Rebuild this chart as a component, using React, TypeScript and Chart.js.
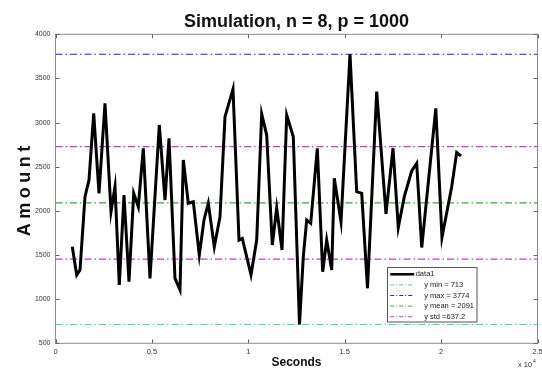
import React, { useEffect, useRef } from 'react';
import { Chart, registerables } from 'chart.js';

Chart.register(...registerables);

const FONT = "'Liberation Sans', Arial, Helvetica, sans-serif";

const titleText = 'Simulation, n = 8, p = 1000';
const xTitle = 'Seconds';
const yTitle = 'Amount';

const seconds = [
  871, 1100, 1271, 1530, 1738, 1981, 2256, 2567, 2879, 3086,
  3309, 3553, 3812, 4056, 4295, 4554, 4901, 5384, 5680, 5887,
  6198, 6457, 6629, 6888, 7147, 7458, 7702, 7925, 8237, 8532,
  8792, 9206, 9518, 9689, 10140, 10436, 10695, 10954, 11245, 11473,
  11748, 11992, 12334, 12656, 12853, 13029, 13237, 13579, 13859, 14066,
  14326, 14461, 14808, 15275, 15622, 15882, 16182, 16660, 17142, 17505,
  17780, 18091, 18475, 18735, 18995, 19725, 20046, 20550, 20809, 21032,
];

const amount = [
  1594, 1274, 1330, 2161, 2350, 3105, 2199, 3219, 1991, 2274,
  1161, 2180, 1198, 2199, 2047, 2709, 1236, 2973, 2123, 2822,
  1236, 1104, 2576, 2087, 2104, 1500, 1897, 2087, 1594, 1934,
  3067, 3380, 1670, 1689, 1274, 1670, 3097, 2859, 1614, 2033,
  1557, 3086, 2840, 713, 1481, 1897, 1859, 2709, 1311, 1670,
  1330, 2369, 1878, 3774, 2217, 2199, 1123, 3350, 1965, 2709,
  1812, 2161, 2452, 2539, 1585, 3162, 1699, 2274, 2661, 2622,
];

const yMin = 713;
const yMax = 3774;
const yMean = 2091;
const yStd = 637.2;

const xRange = [0, 25000];
const yRange = [500, 4000];
const xStep = 5000;
const yStep = 500;

const legendLabels = ['data1', 'y min = 713', 'y max = 3774', 'y mean = 2091', 'y std =637.2'];

const DASH = [7, 3, 1.5, 3];

const hline = (label: string, y: number, color: string, hidden: boolean) => ({
  label,
  data: xRange.map((x) => ({ x, y })),
  borderColor: color,
  backgroundColor: color,
  borderWidth: 1.2,
  borderDash: DASH,
  pointRadius: 0,
  fill: false,
  legendHidden: hidden,
});

const boxPlugin = {
  id: 'matBox',
  beforeDraw(chart: any) {
    const s = chart.scales.y;
    if (s && !s.__ls) {
      const orig = s.drawTitle.bind(s);
      s.drawTitle = () => {
        const c = chart.ctx;
        c.save();
        try { (c as any).letterSpacing = '4.5px'; } catch (e) {}
        orig();
        c.restore();
      };
      s.__ls = true;
    }
  },
  afterDatasetsDraw(chart: any) {
    const { ctx, chartArea: a, scales } = chart;
    ctx.save();
    ctx.setLineDash([]);
    ctx.strokeStyle = '#8c8c8c';
    ctx.lineWidth = 1;
    ctx.strokeRect(a.left, a.top, a.right - a.left, a.bottom - a.top);
    const tl = 4;
    ctx.strokeStyle = '#666';
    ctx.beginPath();
    scales.x.ticks.forEach((t: any) => {
      const px = Math.round(scales.x.getPixelForValue(t.value)) + 0.5;
      ctx.moveTo(px, a.bottom); ctx.lineTo(px, a.bottom - tl);
      ctx.moveTo(px, a.top); ctx.lineTo(px, a.top + tl);
    });
    scales.y.ticks.forEach((t: any) => {
      const py = Math.round(scales.y.getPixelForValue(t.value)) + 0.5;
      ctx.moveTo(a.left, py); ctx.lineTo(a.left + tl, py);
      ctx.moveTo(a.right, py); ctx.lineTo(a.right - tl, py);
    });
    ctx.stroke();
    ctx.restore();
  },
  afterDraw(chart: any) {
    const { ctx, chartArea: a } = chart;
    ctx.save();
    // legend box
    const bx = a.right - 150.3;
    const by = a.bottom - 76;
    const bw = 89.5;
    const bh = 54.5;
    ctx.fillStyle = '#ffffff';
    ctx.fillRect(bx, by, bw, bh);
    ctx.strokeStyle = '#555';
    ctx.lineWidth = 1;
    ctx.setLineDash([]);
    ctx.strokeRect(Math.round(bx) + 0.5, Math.round(by) + 0.5, bw, bh);
    const items = chart.data.datasets.filter((d: any) => !d.legendHidden);
    ctx.font = `7.5px ${FONT}`;
    ctx.textBaseline = 'middle';
    ctx.textAlign = 'left';
    items.forEach((d: any, i: number) => {
      const y = by + 7 + i * 10.6;
      ctx.beginPath();
      ctx.strokeStyle = d.borderColor;
      ctx.lineWidth = i === 0 ? 2.5 : 1;
      ctx.setLineDash(i === 0 ? [] : [4, 2, 1, 2]);
      ctx.moveTo(bx + 3, y);
      ctx.lineTo(bx + 27, y);
      ctx.stroke();
      ctx.fillStyle = '#222';
      ctx.fillText(d.label, bx + (i === 0 ? 28.5 : 37), y);
    });
    // exponent label
    ctx.setLineDash([]);
    ctx.fillStyle = '#333';
    ctx.font = `7.5px ${FONT}`;
    ctx.fillText('x 10', a.right - 19.5, 365);
    ctx.font = `5px ${FONT}`;
    ctx.fillText('4', a.right - 4.5, 361.5);
    ctx.restore();
  },
};

export default function App() {
  const ref = useRef<HTMLCanvasElement | null>(null);

  useEffect(() => {
    if (!ref.current) return;
    const chart = new Chart(ref.current, {
      type: 'line',
      data: {
        datasets: [
          {
            label: legendLabels[0],
            data: seconds.map((x, i) => ({ x, y: amount[i] })),
            borderColor: '#000000',
            backgroundColor: '#000000',
            borderWidth: 3,
            pointRadius: 0,
            tension: 0,
            fill: false,
          } as any,
          hline(legendLabels[1], yMin, '#45d2cc', false),
          hline(legendLabels[2], yMax, '#1f1fff', false),
          hline(legendLabels[3], yMean, '#3fa83f', false),
          hline(legendLabels[4], yMean + yStd, '#c83cc8', false),
          hline(legendLabels[4], yMean - yStd, '#c83cc8', true),
        ],
      },
      options: {
        animation: false,
        responsive: false,
        devicePixelRatio: 1,
        events: [],
        layout: { padding: { left: 0, right: 4.5, top: 0, bottom: 0 } },
        plugins: {
          legend: { display: false },
          tooltip: { enabled: false },
          title: {
            display: true,
            text: titleText,
            fullSize: false,
            color: '#111',
            font: { family: FONT, size: 18, weight: 'bold', lineHeight: 1.2 },
            padding: { top: 11.4, bottom: 1.3 },
          },
        },
        scales: {
          x: {
            type: 'linear',
            min: xRange[0],
            max: xRange[1],
            ticks: {
              stepSize: xStep,
              color: '#333',
              font: { family: FONT, size: 7.5 },
              padding: 3.9,
              maxRotation: 0,
              callback: (v: any) => String(Number(v) / 10000),
            },
            grid: { display: false, drawTicks: false },
            border: { display: false },
            title: {
              display: true,
              text: xTitle,
              color: '#111',
              font: { family: FONT, size: 12, weight: 'bold', lineHeight: 1 },
              padding: { top: 0, bottom: 0.3 },
            },
            afterFit: (s: any) => { s.height = 25.7; s.paddingLeft = 0; s.paddingRight = 0; },
          },
          y: {
            type: 'linear',
            min: yRange[0],
            max: yRange[1],
            ticks: {
              stepSize: yStep,
              color: '#333',
              font: { family: FONT, size: 7 },
              padding: 5,
              callback: (v: any) => String(v),
            },
            grid: { display: false, drawTicks: false },
            border: { display: false },
            title: {
              display: true,
              text: yTitle,
              color: '#111',
              font: { family: FONT, size: 18, weight: 'bold', lineHeight: 1.2 },
              padding: { top: 14.2, bottom: 0 },
            },
            afterFit: (s: any) => { s.width = 55.5; s.paddingTop = 0; s.paddingBottom = 0; },
          },
        },
      } as any,
      plugins: [boxPlugin],
    });
    return () => chart.destroy();
  }, []);

  return (
    <div style={{ position: 'fixed', left: 0, top: 0, width: 542, height: 369, background: '#fff' }}>
      <canvas ref={ref} width={542} height={369} style={{ width: 542, height: 369, display: 'block' }} />
    </div>
  );
}
